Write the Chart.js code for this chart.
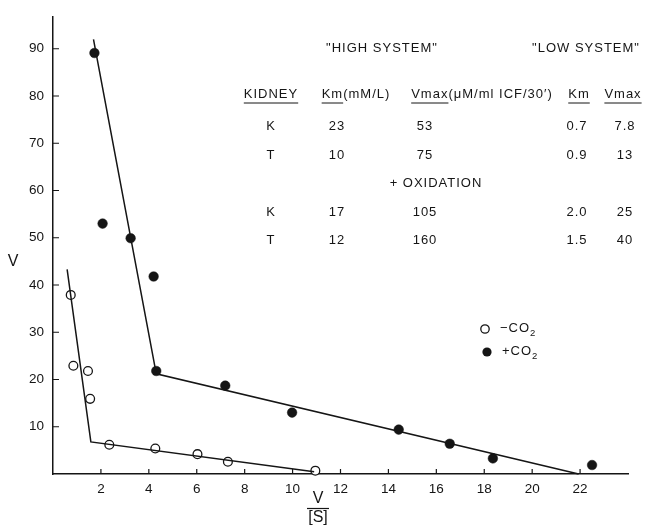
<!DOCTYPE html>
<html>
<head>
<meta charset="utf-8">
<script src="https://cdn.jsdelivr.net/npm/chart.js@4.4.1/dist/chart.umd.min.js"></script>
<style>
html,body{margin:0;padding:0;background:#fff;}
#c{display:block;}
</style>
</head>
<body>
<canvas id="c" width="653" height="526"></canvas>
<script>
// ---- data ----
const openX = [0.74, 0.85, 1.46, 1.55, 2.35, 4.27, 6.03, 7.30, 10.95];
const openY = [37.9, 22.9, 21.8, 15.9, 6.2, 5.4, 4.2, 2.6, 0.7];
const filledX = [1.73, 2.07, 3.24, 4.20, 4.31, 7.19, 9.98, 14.43, 16.56, 18.36, 22.50];
const filledY = [89.1, 53.0, 49.9, 41.8, 21.8, 18.7, 13.0, 9.4, 6.4, 3.3, 1.9];
const openLineX = [0.59, 1.58, 10.9];
const openLineY = [43.3, 6.8, 0.5];
const filledLineX = [1.69, 4.31, 21.94];
const filledLineY = [92.0, 21.2, 0];
const xTickValues = [2, 4, 6, 8, 10, 12, 14, 16, 18, 20, 22];
const yTickValues = [10, 20, 30, 40, 50, 60, 70, 80, 90];
const seriesNames = ['\u2212CO', '+CO'];
const tableHeaders = ['KIDNEY', 'Km(mM/L)', 'Vmax(\u03bcM/ml ICF/30\u2032)', 'Km', 'Vmax'];
const tableRows1 = [['K', '23', '53', '0.7', '7.8'], ['T', '10', '75', '0.9', '13']];
const tableRows2 = [['K', '17', '105', '2.0', '25'], ['T', '12', '160', '1.5', '40']];

const pts = (xs, ys) => xs.map((x, i) => ({x: x, y: ys[i]}));
const INK = '#151515';
const FONT = '"Liberation Sans", Arial, sans-serif';
const TXT = '13px ' + FONT;

const tickPlugin = {
  id: 'innerTicks',
  afterDraw(chart) {
    const ctx = chart.ctx, xs = chart.scales.x, ys = chart.scales.y;
    const ca = chart.chartArea;
    ctx.save();
    ctx.strokeStyle = INK; ctx.lineWidth = 1.2;
    ctx.beginPath();
    xTickValues.forEach(v => { const px = xs.getPixelForValue(v); ctx.moveTo(px, ca.bottom); ctx.lineTo(px, ca.bottom - 5); });
    yTickValues.forEach(v => { const py = ys.getPixelForValue(v); ctx.moveTo(ca.left, py); ctx.lineTo(ca.left + 6, py); });
    ctx.stroke();
    ctx.restore();
  }
};

const textPlugin = {
  id: 'texts',
  afterDraw(chart) {
    const ctx = chart.ctx;
    ctx.save();
    ctx.fillStyle = INK; ctx.strokeStyle = INK;
    ctx.textBaseline = 'middle'; ctx.textAlign = 'center';
    ctx.font = TXT;
    ctx.letterSpacing = '1px';
    // headers
    ctx.fillText('"HIGH SYSTEM"', 382, 48);
    ctx.fillText('"LOW SYSTEM"', 586, 48);
    const cols = [271, 356, 482, 579, 623];
    const hy = 94;
    tableHeaders.forEach((h, i) => ctx.fillText(h, cols[i], hy));
    // underlines
    ctx.lineWidth = 1;
    const ul = (x1, x2) => { ctx.beginPath(); ctx.moveTo(x1, hy + 9); ctx.lineTo(x2, hy + 9); ctx.stroke(); };
    const w = t => ctx.measureText(t).width;
    ul(cols[0] - w(tableHeaders[0]) / 2, cols[0] + w(tableHeaders[0]) / 2);
    let s = cols[1] - w(tableHeaders[1]) / 2; ul(s, s + w('Km'));
    s = cols[2] - w(tableHeaders[2]) / 2; ul(s, s + w('Vmax'));
    ul(cols[3] - w('Km') / 2, cols[3] + w('Km') / 2);
    ul(cols[4] - w('Vmax') / 2, cols[4] + w('Vmax') / 2);
    const vcols = [271, 337, 425, 577, 625];
    [126, 155].forEach((y, r) => tableRows1[r].forEach((t, i) => ctx.fillText(t, vcols[i], y)));
    ctx.fillText('+ OXIDATION', 436, 183);
    [212, 240].forEach((y, r) => tableRows2[r].forEach((t, i) => ctx.fillText(t, vcols[i], y)));
    // legend
    ctx.textAlign = 'left';
    ctx.lineWidth = 1.3;
    ctx.beginPath(); ctx.arc(485, 329, 4.2, 0, Math.PI * 2); ctx.fillStyle = '#fff'; ctx.fill(); ctx.stroke();
    ctx.beginPath(); ctx.arc(487, 352, 4.6, 0, Math.PI * 2); ctx.fillStyle = INK; ctx.fill();
    ctx.font = TXT;
    const w1 = ctx.measureText(seriesNames[0]).width;
    const w2 = ctx.measureText(seriesNames[1]).width;
    ctx.fillText(seriesNames[0], 500, 328);
    ctx.fillText(seriesNames[1], 502, 351);
    ctx.font = '9.5px ' + FONT;
    ctx.fillText('2', 500 + w1, 333);
    ctx.fillText('2', 502 + w2, 356);
    // axis titles
    ctx.letterSpacing = '0px';
    ctx.textAlign = 'center';
    ctx.font = '16px ' + FONT;
    ctx.fillText('V', 13, 262);
    ctx.fillText('V', 318, 499);
    ctx.beginPath(); ctx.moveTo(307, 508.5); ctx.lineTo(329, 508.5); ctx.lineWidth = 1.2; ctx.stroke();
    ctx.fillText('[S]', 318, 518);
    ctx.restore();
  }
};

new Chart(document.getElementById('c'), {
  type: 'scatter',
  data: {
    datasets: [
      { type: 'line', label: 'line open', data: pts(openLineX, openLineY), borderColor: INK, borderWidth: 1.5, pointRadius: 0, fill: false, tension: 0 },
      { type: 'line', label: 'line filled', data: pts(filledLineX, filledLineY), borderColor: INK, borderWidth: 1.5, pointRadius: 0, fill: false, tension: 0 },
      { label: '-CO2', data: pts(openX, openY), pointRadius: 4.4, pointBackgroundColor: '#fff', pointBorderColor: INK, pointBorderWidth: 1.3 },
      { label: '+CO2', data: pts(filledX, filledY), pointRadius: 4.8, pointBackgroundColor: INK, pointBorderColor: INK, pointBorderWidth: 0.5 }
    ]
  },
  options: {
    responsive: false,
    animation: false,
    clip: false,
    layout: { padding: { top: 15, right: 25, left: 0, bottom: 0 } },
    plugins: { legend: { display: false }, tooltip: { enabled: false } },
    scales: {
      x: {
        type: 'linear', min: 0, max: 24,
        afterFit: s => { s.height = 52; },
        grid: { display: false, drawTicks: false },
        border: { display: true, color: INK, width: 1.5 },
        ticks: { stepSize: 2, includeBounds: false, padding: 7, color: INK, font: { family: FONT, size: 13.5 },
          callback: v => xTickValues.includes(v) ? String(v) : '' }
      },
      y: {
        type: 'linear', min: 0, max: 96.7,
        afterFit: s => { s.width = 53; },
        grid: { display: false, drawTicks: false },
        border: { display: true, color: INK, width: 1.5 },
        ticks: { stepSize: 10, includeBounds: false, padding: 9, color: INK, font: { family: FONT, size: 13.5 },
          callback: v => yTickValues.includes(v) ? String(v) : '' }
      }
    }
  },
  plugins: [tickPlugin, textPlugin]
});
</script>
</body>
</html>
